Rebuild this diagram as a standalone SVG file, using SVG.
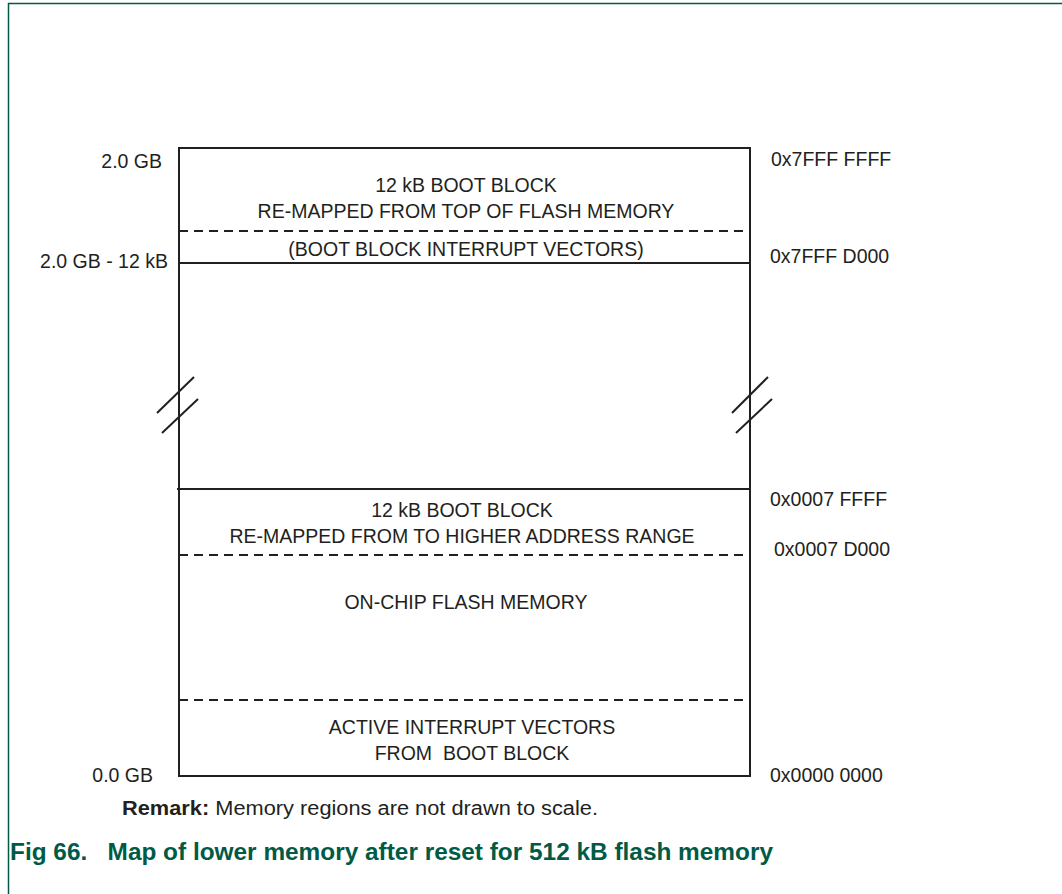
<svg xmlns="http://www.w3.org/2000/svg" width="1062" height="894" viewBox="0 0 1062 894">
<style>
.t{font-family:"Liberation Sans",Arial,sans-serif;font-size:19.5px;fill:#231f20}
.c{text-anchor:middle}
.r{text-anchor:end}
.s{stroke:#231f20;stroke-width:2;fill:none}
.d{stroke:#231f20;stroke-width:2;fill:none;stroke-dasharray:9 6}
</style>
<rect x="0" y="0" width="1062" height="894" fill="#fff"/>
<path d="M8.5,894 V3.5 H1062" fill="none" stroke="#005a46" stroke-width="1.5"/>
<g id="memory-box">
<rect x="179" y="148" width="571" height="628" class="s"/>
</g>
<g id="connectors">
<line x1="179" y1="231" x2="750" y2="231" class="d"/>
<line x1="179" y1="263" x2="750" y2="263" class="s"/>
<line x1="177" y1="489" x2="750" y2="489" class="s"/>
<line x1="179" y1="555" x2="750" y2="555" class="d"/>
<line x1="179" y1="700" x2="750" y2="700" class="d"/>
<line x1="157" y1="413" x2="194" y2="377" class="s"/>
<line x1="162" y1="433" x2="198" y2="399" class="s"/>
<line x1="732" y1="413" x2="768" y2="377" class="s"/>
<line x1="736" y1="433" x2="772" y2="399" class="s"/>
</g>
<g id="boot-block-top">
<text class="t c" x="466" y="192">12 kB BOOT BLOCK</text>
<text class="t c" x="466" y="218">RE-MAPPED FROM TOP OF FLASH MEMORY</text>
</g>
<g id="boot-vectors">
<text class="t c" x="466" y="256">(BOOT BLOCK INTERRUPT VECTORS)</text>
</g>
<g id="boot-block-low">
<text class="t c" x="462" y="517">12 kB BOOT BLOCK</text>
<text class="t c" x="462" y="543">RE-MAPPED FROM TO HIGHER ADDRESS RANGE</text>
</g>
<g id="flash">
<text class="t c" x="466" y="609">ON-CHIP FLASH MEMORY</text>
</g>
<g id="active-vectors">
<text class="t c" x="472" y="734">ACTIVE INTERRUPT VECTORS</text>
<text class="t c" x="472" y="760" xml:space="preserve">FROM  BOOT BLOCK</text>
</g>
<g id="labels">
<text class="t r" x="162" y="168">2.0 GB</text>
<text class="t r" x="168" y="268">2.0 GB - 12 kB</text>
<text class="t r" x="153" y="782">0.0 GB</text>
<text class="t" x="771" y="166">0x7FFF FFFF</text>
<text class="t" x="770" y="263">0x7FFF D000</text>
<text class="t" x="770" y="506">0x0007 FFFF</text>
<text class="t" x="774" y="556">0x0007 D000</text>
<text class="t" x="770" y="782">0x0000 0000</text>
</g>
<text class="t" x="122" y="815" textLength="476" lengthAdjust="spacingAndGlyphs"><tspan font-weight="bold">Remark:</tspan> Memory regions are not drawn to scale.</text>
<text x="10" y="860" font-family="'Liberation Sans',Arial,sans-serif" font-size="24.5" font-weight="bold" fill="#005a46" xml:space="preserve" textLength="763" lengthAdjust="spacingAndGlyphs">Fig 66.   Map of lower memory after reset for 512 kB flash memory</text>
</svg>
